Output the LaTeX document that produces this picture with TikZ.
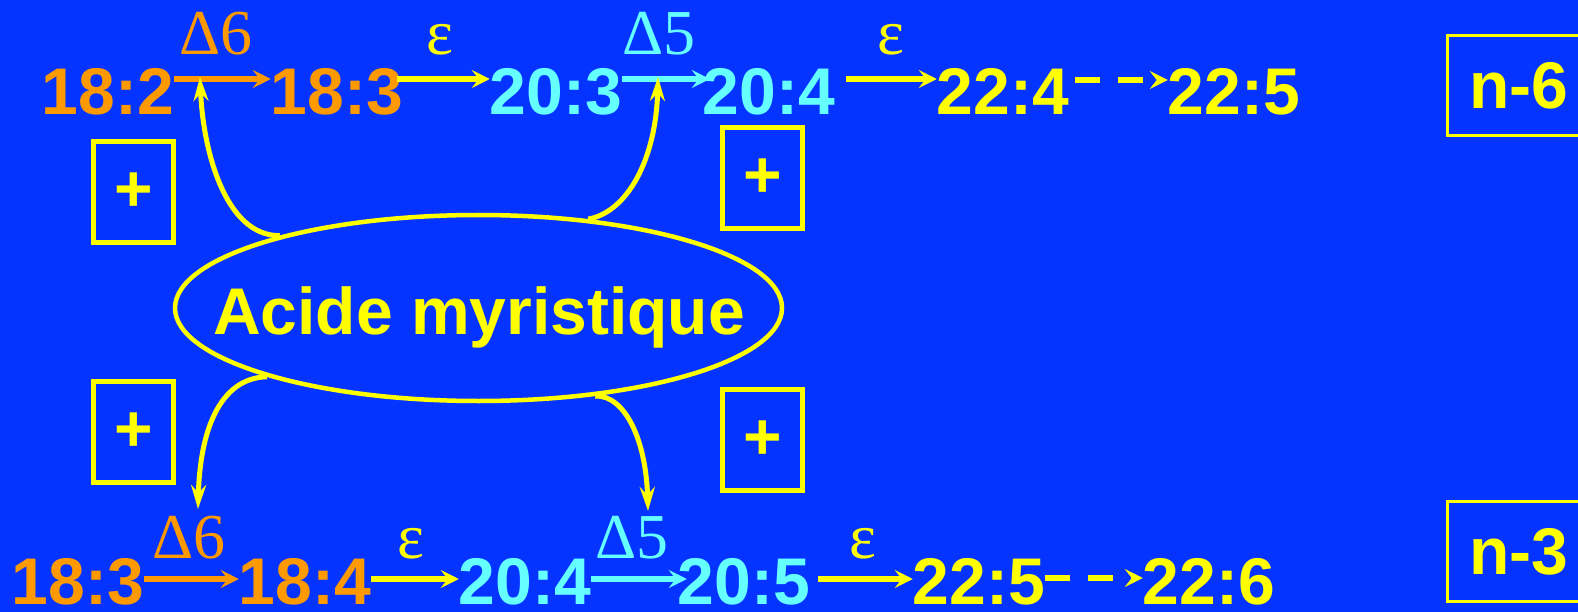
\documentclass[tikz,border=0pt]{standalone}
\usepackage{fontspec}
\setmainfont{Liberation Sans}
\newfontfamily\greekfont{Liberation Serif}
\usetikzlibrary{arrows.meta,shapes.geometric}
\definecolor{slideblue}{RGB}{5,51,255}
\definecolor{acorange}{RGB}{255,153,0}
\definecolor{accyan}{RGB}{102,255,255}
\definecolor{acyellow}{RGB}{255,255,0}

\begin{document}
\begin{tikzpicture}[x=1pt,y=-1pt,
    acid/.style={anchor=base,inner sep=0pt,font=\fontsize{66}{70}\selectfont\bfseries},
    enz/.style={anchor=base,inner sep=0pt,font=\fontsize{64}{70}\selectfont\greekfont},
    arr/.style={line width=6pt,-{Stealth[length=18pt,width=18pt,inset=7pt]}},
    darr/.style={arr,acyellow,dash pattern=on 25pt off 18pt},
    curv/.style={acyellow,line width=5pt,-{Stealth[length=24pt,width=15pt,inset=8pt]}},
    plusbox/.style={draw=acyellow,line width=5pt,minimum width=80pt,minimum height=101pt,
      inner sep=0pt,text=acyellow,font=\fontsize{66}{70}\selectfont\bfseries},
    serbox/.style={draw=acyellow,line width=3pt,minimum width=143pt,minimum height=100pt,
      inner sep=0pt,text=acyellow,font=\fontsize{66}{70}\selectfont\bfseries}]
  \fill[slideblue] (0,0) rectangle (1578,612);
  \useasboundingbox (0,0) rectangle (1578,612);
  % serie n-6
  \node[acid,text=acorange] (t182) at (108,115) {18:2};
  \node[acid,text=acorange] (t183) at (337,115) {18:3};
  \node[acid,text=accyan] (t203) at (556,115) {20:3};
  \node[acid,text=accyan] (t204) at (769,115) {20:4};
  \node[acid,text=acyellow] (t224) at (1003,115) {22:4};
  \node[acid,text=acyellow] (t225) at (1234,115) {22:5};
  \node[enz,text=acorange] (td6) at (216,55) {Δ6};
  \node[enz,text=acyellow] (te1) at (440,55) {ε};
  \node[enz,text=accyan] (td5) at (659,55) {Δ5};
  \node[enz,text=acyellow] (te2) at (891,55) {ε};
  \draw[arr,acorange] ([yshift=36pt]t182.base east) -- ([yshift=36pt]t183.base west);
  \draw[arr,acyellow,shorten <=-6pt] ([yshift=36pt]t183.base east) -- ([yshift=36pt]t203.base west);
  \draw[arr,accyan,shorten >=-7pt] ([yshift=36pt]t203.base east) -- ([yshift=36pt]t204.base west);
  \draw[arr,acyellow,shorten <=11pt] ([yshift=36pt]t204.base east) -- ([yshift=36pt]t224.base west);
  \draw[darr,shorten <=6pt] ([yshift=35pt]t224.base east) -- ([yshift=35pt]t225.base west);
  \node[serbox] (n6) at (1519,85.5) {n-6};
  % serie n-3
  \node[acid,text=acorange] (b183) at (78,604) {18:3};
  \node[acid,text=acorange] (b184) at (305,604) {18:4};
  \node[acid,text=accyan] (b204) at (525,604) {20:4};
  \node[acid,text=accyan] (b205) at (744,604) {20:5};
  \node[acid,text=acyellow] (b225) at (979,604) {22:5};
  \node[acid,text=acyellow] (b226) at (1209,604) {22:6};
  \node[enz,text=acorange] (bd6) at (189,558) {Δ6};
  \node[enz,text=acyellow] (be1) at (411,558) {ε};
  \node[enz,text=accyan] (bd5) at (632,558) {Δ5};
  \node[enz,text=acyellow] (be2) at (863,558) {ε};
  \draw[arr,acorange] ([yshift=25pt]b183.base east) -- ([yshift=25pt]b184.base west);
  \draw[arr,acyellow] ([yshift=25pt]b184.base east) -- ([yshift=25pt]b204.base west);
  \draw[arr,accyan,shorten >=-9pt] ([yshift=25pt]b204.base east) -- ([yshift=25pt]b205.base west);
  \draw[arr,acyellow,shorten <=8pt] ([yshift=25pt]b205.base east) -- ([yshift=25pt]b225.base west);
  \draw[darr] ([yshift=26pt]b225.base east) -- ([yshift=26pt]b226.base west);
  \node[serbox] (n3) at (1519,551.5) {n-3};
  % acide myristique
  \node[ellipse,draw=acyellow,line width=4.5pt,minimum width=607pt,minimum height=186pt,
    inner sep=0pt] (myr) at (478.5,308) {};
  \node[acid,text=acyellow] (myrtxt) at (479,334) {Acide myristique};
  \node[plusbox] (p1) at (133.5,192) {+};
  \node[plusbox] (p2) at (762.5,178.5) {+};
  \node[plusbox] (p3) at (133.5,432) {+};
  \node[plusbox] (p4) at (762.5,440) {+};
  \coordinate (c1) at (200,77);
  \coordinate (c2) at (658,77);
  \coordinate (c3) at (198,509);
  \coordinate (c4) at (648,511);
  \draw[curv] (myr.160) .. controls (225,236) and (203,150) .. (c1);
  \draw[curv] (myr.39) .. controls (627,212) and (656,160) .. (c2);
  \draw[curv] (myr.198) .. controls (220,378) and (200,430) .. (c3);
  \draw[curv] (myr.-37) .. controls (625,395) and (646,440) .. (c4);
\end{tikzpicture}
\end{document}
